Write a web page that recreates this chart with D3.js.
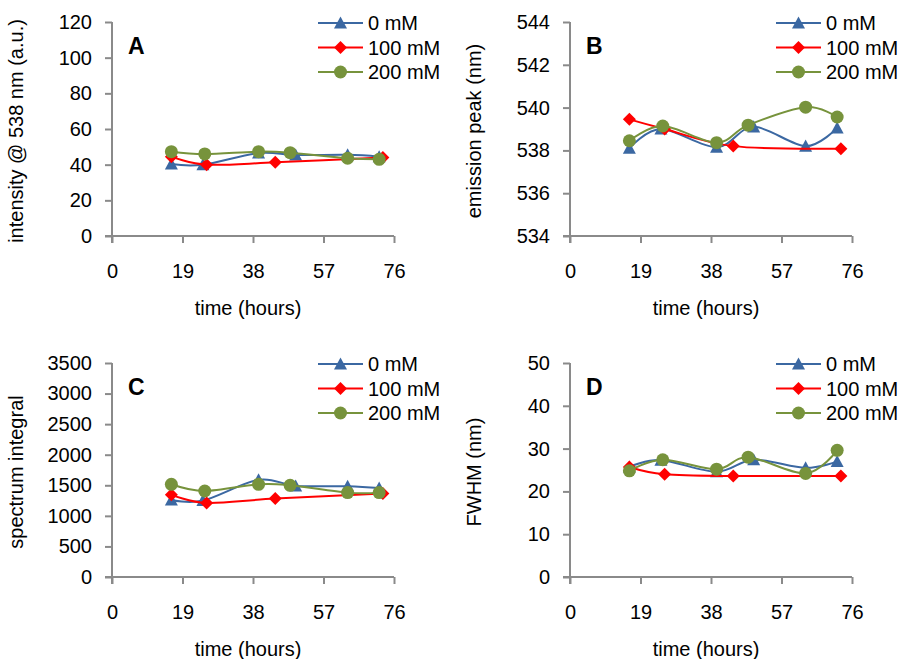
<!DOCTYPE html>
<html>
<head>
<meta charset="utf-8">
<script src="https://d3js.org/d3.v7.min.js"></script>
<style>
  html, body { margin: 0; padding: 0; background: #fff; }
  svg text { font-family: "Liberation Sans", Arial, sans-serif; fill: #000; }
</style>
</head>
<body>
<svg id="chart" width="901" height="659"></svg>
<script>
// Sampling times (hours) for each NaCl concentration
const timeTicks = [0, 19, 38, 57, 76];
const time0 = [16, 24.5, 39.5, 49.5, 63.5, 72];
const time100 = [16, 25.5, 44, 73];
const time200 = [16, 25, 39.5, 48, 63.5, 72];

const seriesNames = ["0 mM", "100 mM", "200 mM"];

// A: intensity @ 538 nm
const intensity0 = [40.4, 40, 46.5, 45.4, 45.5, 44.5];
const intensity100 = [44.5, 40, 41.3, 44];
const intensity200 = [47.3, 46, 47.3, 46.7, 43.6, 43];
const intensityTicks = [0, 20, 40, 60, 80, 100, 120];

// B: emission peak
const peak0 = [538.1, 539.0, 538.15, 539.1, 538.2, 539.05];
const peak100 = [539.45, 539.0, 538.2, 538.08];
const peak200 = [538.45, 539.14, 538.36, 539.18, 540.02, 539.56];
const peakTicks = [534, 536, 538, 540, 542, 544];

// C: spectrum integral
const integral0 = [1260, 1250, 1590, 1490, 1485, 1455];
const integral100 = [1347, 1210, 1282, 1364];
const integral200 = [1516, 1407, 1516, 1500, 1380, 1380];
const integralTicks = [0, 500, 1000, 1500, 2000, 2500, 3000, 3500];

// D: FWHM
const fwhm0 = [25.7, 27.3, 24.6, 27.4, 25.5, 27.0];
const fwhm100 = [25.7, 24.0, 23.6, 23.6];
const fwhm200 = [24.8, 27.4, 25.2, 28.0, 24.2, 29.6];
const fwhmTicks = [0, 10, 20, 30, 40, 50];

const colors = ["#3b68a2", "#ff0000", "#77933c"];
const markers = ["triangle", "diamond", "circle"];
const axisColor = "#8a8a8a";

const panels = [
  { letter: "A", left: 112, top: 22, ylabel: "intensity @ 538 nm (a.u.)", ticks: intensityTicks,
    series: [[time0, intensity0], [time100, intensity100], [time200, intensity200]] },
  { letter: "B", left: 570, top: 22, ylabel: "emission peak (nm)", ticks: peakTicks,
    series: [[time0, peak0], [time100, peak100], [time200, peak200]] },
  { letter: "C", left: 112, top: 363, ylabel: "spectrum integral", ticks: integralTicks,
    series: [[time0, integral0], [time100, integral100], [time200, integral200]] },
  { letter: "D", left: 570, top: 363, ylabel: "FWHM (nm)", ticks: fwhmTicks,
    series: [[time0, fwhm0], [time100, fwhm100], [time200, fwhm200]] }
];

const W = 282, H = 214;
const svg = d3.select("#chart");

function drawMarker(g, type, x, y, color) {
  if (type === "circle") {
    g.append("circle").attr("cx", x).attr("cy", y).attr("r", 6.5).attr("fill", color);
  } else if (type === "diamond") {
    const s = 6.5;
    g.append("path")
      .attr("d", `M${x},${y - s}L${x + s},${y}L${x},${y + s}L${x - s},${y}Z`)
      .attr("fill", color);
  } else {
    const s = 6.5;
    g.append("path")
      .attr("d", `M${x},${y - s}L${x + s},${y + s * 0.85}L${x - s},${y + s * 0.85}Z`)
      .attr("fill", color);
  }
}

panels.forEach(p => {
  const g = svg.append("g").attr("transform", `translate(${p.left},${p.top})`);
  const x = d3.scaleLinear().domain([0, 76]).range([0, W]);
  const y = d3.scaleLinear().domain([p.ticks[0], p.ticks[p.ticks.length - 1]]).range([H, 0]);

  // axes
  const yAxis = d3.axisLeft(y).tickValues(p.ticks).tickSize(7).tickPadding(13).tickFormat(d3.format("d"));
  const xAxis = d3.axisBottom(x).tickValues(timeTicks).tickSize(7).tickPadding(21).tickFormat(d3.format("d"));

  const ya = g.append("g").call(yAxis);
  const xa = g.append("g").attr("transform", `translate(0,${H})`).call(xAxis);
  [ya, xa].forEach(a => {
    a.select(".domain").remove();
    a.selectAll(".tick line").attr("stroke", axisColor).attr("stroke-width", 2);
    a.selectAll(".tick text").attr("font-size", 20).attr("font-family", "Liberation Sans, Arial, sans-serif").attr("fill", "#000");
  });
  g.append("line").attr("x1", 0).attr("x2", 0).attr("y1", 0).attr("y2", H + 7)
    .attr("stroke", axisColor).attr("stroke-width", 2);
  g.append("line").attr("x1", -7).attr("x2", W).attr("y1", H).attr("y2", H)
    .attr("stroke", axisColor).attr("stroke-width", 2);

  // axis titles
  g.append("text").attr("x", W / 2 - 5).attr("y", H + 79).attr("text-anchor", "middle")
    .attr("font-size", 20).text("time (hours)");
  g.append("text").attr("transform", `translate(-89,${H / 2 + 2}) rotate(-90)`)
    .attr("text-anchor", "middle").attr("font-size", 20).text(p.ylabel);

  // panel letter
  g.append("text").attr("x", 16).attr("y", 32).attr("font-size", 23)
    .attr("font-weight", "bold").text(p.letter);

  // series
  const line = d3.line().x(d => x(d[0])).y(d => y(d[1])).curve(d3.curveCatmullRom.alpha(0));
  p.series.forEach((s, i) => {
    const pts = s[0].map((t, k) => [t, s[1][k]]);
    g.append("path").datum(pts).attr("d", line).attr("fill", "none")
      .attr("stroke", colors[i]).attr("stroke-width", 2);
    pts.forEach(d => drawMarker(g, markers[i], x(d[0]), y(d[1]), colors[i]));
  });

  // legend
  const lg = g.append("g").attr("transform", "translate(206,0)");
  seriesNames.forEach((name, i) => {
    const ry = 1 + i * 24.5;
    lg.append("line").attr("x1", 0).attr("x2", 45).attr("y1", ry).attr("y2", ry)
      .attr("stroke", colors[i]).attr("stroke-width", 2);
    drawMarker(lg, markers[i], 22.5, ry, colors[i]);
    lg.append("text").attr("x", 50).attr("y", ry + 7).attr("font-size", 20).text(name);
  });
});
</script>
</body>
</html>
